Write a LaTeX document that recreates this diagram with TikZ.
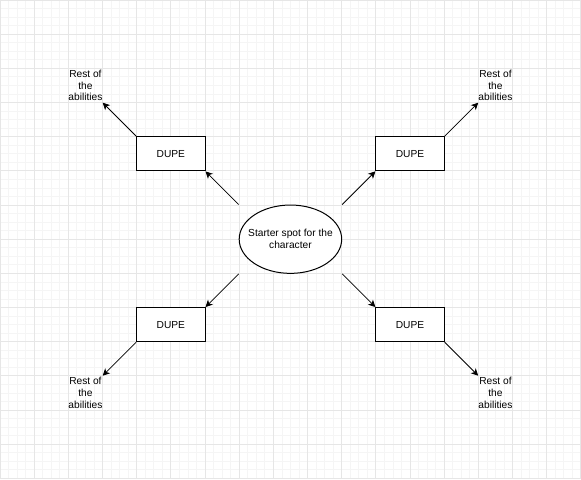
\documentclass[tikz,border=0pt]{standalone}
\usepackage{fontspec}
\setmainfont{Liberation Sans}
\usetikzlibrary{shapes.geometric,arrows.meta}
\tikzset{
  minorline/.style={draw={rgb,255:red,245;green,245;blue,245},line width=0.8pt},
  majorline/.style={draw={rgb,255:red,230;green,230;blue,230},line width=0.9pt},
  txtfont/.style={font=\fontsize{10.2pt}{11.8pt}\selectfont},
  dupebox/.style={draw=black,line width=1pt,fill=white,minimum width=68.34pt,minimum height=34.17pt,inner sep=0pt,txtfont},
  startell/.style={ellipse,draw=black,line width=1pt,fill=white,minimum width=102.51pt,minimum height=68.34pt,inner sep=0pt},
  lbl/.style={align=center,inner sep=0pt,txtfont},
  resttext/.style={align=center,inner sep=0pt,minimum width=34.17pt,minimum height=34.17pt,txtfont},
  conn/.style={draw=black,line width=0.8pt,-{Stealth[length=7pt,width=7pt,inset=2pt]}}
}
\begin{document}
\begin{tikzpicture}[x=34.17pt,y=-34.17pt]
\useasboundingbox (0,0) rectangle (17.003,14.018);
\fill[white] (0,0) rectangle (17.003,14.018);
% grid
\foreach \i in {0,...,68} \path[minorline] (\i/4,0) -- (\i/4,14.018);
\foreach \i in {0,...,56} \path[minorline] (0,\i/4) -- (17.003,\i/4);
\foreach \i in {0,...,17} \path[majorline] (\i,0) -- (\i,14.018);
\foreach \i in {0,...,14} \path[majorline] (0,\i) -- (17.003,\i);
% nodes
\node[startell,label={[lbl]center:Starter spot for the\\character}] (start) at (8.5,7) {};
\node[dupebox] (tl) at (5,4.5) {DUPE};
\node[dupebox] (tr) at (12,4.5) {DUPE};
\node[dupebox] (bl) at (5,9.5) {DUPE};
\node[dupebox] (br) at (12,9.5) {DUPE};
\node[resttext] (rtl) at (2.5,2.5) {Rest of\\the\\abilities};
\node[resttext] (rtr) at (14.5,2.5) {Rest of\\the\\abilities};
\node[resttext] (rbl) at (2.5,11.5) {Rest of\\the\\abilities};
\node[resttext] (rbr) at (14.5,11.5) {Rest of\\the\\abilities};
% connectors
\draw[conn] (start.north -| start.west) -- (tl.south east);
\draw[conn] (start.north -| start.east) -- (tr.south west);
\draw[conn] (start.south -| start.west) -- (bl.north east);
\draw[conn] (start.south -| start.east) -- (br.north west);
\draw[conn] (tl.north west) -- (rtl.south east);
\draw[conn] (tr.north east) -- (rtr.south west);
\draw[conn] (bl.south west) -- (rbl.north east);
\draw[conn] (br.south east) -- (rbr.north west);
\end{tikzpicture}
\end{document}
